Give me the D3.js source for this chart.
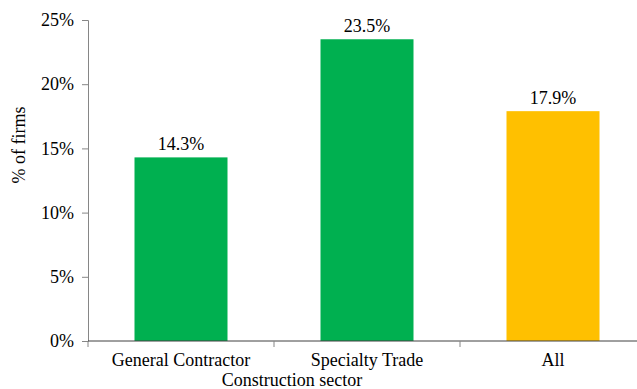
<!DOCTYPE html>
<html>
<head>
<meta charset="utf-8">
<script src="https://cdn.jsdelivr.net/npm/d3@7"></script>
<style>
  body { margin: 0; background: #fff; }
  svg text { font-family: "Liberation Serif", "Times New Roman", serif; fill: #000; }
</style>
</head>
<body>
<svg width="637" height="389"></svg>
<script>
var categories = ["General Contractor", "Specialty Trade", "All"];
var values = [14.3, 23.5, 17.9];
var barColors = ["#00B050", "#00B050", "#FFC000"];
var yTicks = [0, 5, 10, 15, 20, 25];

var svg = d3.select("svg"),
    margin = {top: 20, right: -9, bottom: 48, left: 88},
    width = +svg.attr("width") - margin.left - margin.right,
    height = +svg.attr("height") - margin.top - margin.bottom,
    g = svg.append("g").attr("transform", "translate(" + margin.left + "," + margin.top + ")");

var x = d3.scaleBand()
    .domain(categories)
    .range([0, width])
    .paddingInner(0.5)
    .paddingOuter(0.25);

var y = d3.scaleLinear()
    .domain([0, 25])
    .range([height, 0]);

// y axis
var yAxis = g.append("g")
    .call(d3.axisLeft(y).tickValues(yTicks).tickSize(6).tickPadding(8).tickFormat(function(d) { return d + "%"; }));
yAxis.selectAll("path, line").attr("stroke", "#868686");
yAxis.selectAll("text").attr("font-size", 18);

// bars
g.selectAll("rect.bar")
    .data(values)
  .enter().append("rect")
    .attr("class", "bar")
    .attr("x", function(d, i) { return x(categories[i]); })
    .attr("y", function(d) { return y(d); })
    .attr("width", x.bandwidth())
    .attr("height", function(d) { return height - y(d); })
    .attr("fill", function(d, i) { return barColors[i]; });

// value labels
g.selectAll("text.val")
    .data(values)
  .enter().append("text")
    .attr("class", "val")
    .attr("x", function(d, i) { return x(categories[i]) + x.bandwidth() / 2; })
    .attr("y", function(d) { return y(d) - 7; })
    .attr("text-anchor", "middle")
    .attr("font-size", 18)
    .text(function(d) { return d.toFixed(1) + "%"; });

// x axis, ticks between categories
var step = x.step();
var xAxisG = g.append("g").attr("transform", "translate(0," + height + ")");
xAxisG.append("line")
    .attr("x1", 0).attr("x2", width)
    .attr("stroke", "#404040");
xAxisG.selectAll("line.tick")
    .data(d3.range(categories.length + 1))
  .enter().append("line")
    .attr("class", "tick")
    .attr("x1", function(i) { return i * step; })
    .attr("x2", function(i) { return i * step; })
    .attr("y1", 0).attr("y2", 6)
    .attr("stroke", "#868686");
xAxisG.selectAll("text")
    .data(categories)
  .enter().append("text")
    .attr("x", function(d) { return x(d) + x.bandwidth() / 2; })
    .attr("y", 25)
    .attr("text-anchor", "middle")
    .attr("font-size", 18)
    .text(function(d) { return d; });

// axis titles
svg.append("text")
    .attr("x", 292)
    .attr("y", 386)
    .attr("text-anchor", "middle")
    .attr("font-size", 18)
    .text("Construction sector");

svg.append("text")
    .attr("transform", "translate(25,145) rotate(-90)")
    .attr("text-anchor", "middle")
    .attr("font-size", 18)
    .text("% of firms");
</script>
</body>
</html>
